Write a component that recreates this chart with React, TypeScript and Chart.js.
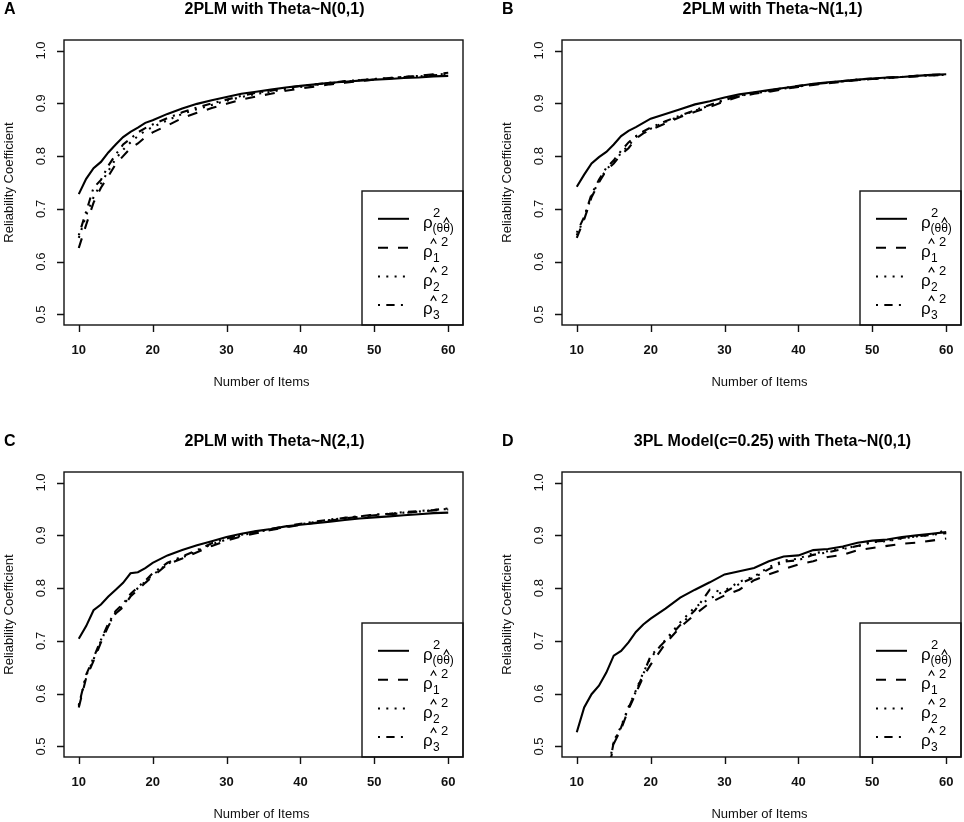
import { useEffect, useRef } from "react"
import { Chart, registerables } from "chart.js"
import type { Plugin } from "chart.js"

Chart.register(...registerables)

const FONT = "'Liberation Sans', Arial, Helvetica, sans-serif"

// x positions (number of items) where the curves were read
const items = [10, 11, 12, 13, 14, 15, 16, 17, 18, 19, 20, 22, 24, 26, 28, 30, 32, 34, 36, 38, 40, 42, 44, 46, 48, 50, 52, 54, 56, 58, 60]

const xTicks = [10, 20, 30, 40, 50, 60]
const yTicks = [0.5, 0.6, 0.7, 0.8, 0.9, 1.0]
const yTickLabels = ["0.5", "0.6", "0.7", "0.8", "0.9", "1.0"]

const panelLetters = ["A", "B", "C", "D"]
const panelTitles = [
  "2PLM with Theta~N(0,1)",
  "2PLM with Theta~N(1,1)",
  "2PLM with Theta~N(2,1)",
  "3PL Model(c=0.25) with Theta~N(0,1)",
]
const legendSubscripts = ["1", "2", "3"]

// A: 2PLM, theta ~ N(0,1)
const aTrue = [0.728, 0.757, 0.777, 0.789, 0.807, 0.822, 0.836, 0.846, 0.854, 0.863, 0.868, 0.880, 0.890, 0.899, 0.906, 0.912, 0.918, 0.922, 0.926, 0.930, 0.933, 0.936, 0.939, 0.941, 0.943, 0.945, 0.946, 0.948, 0.949, 0.951, 0.952]
const aRho1 = [0.626, 0.670, 0.712, 0.740, 0.762, 0.785, 0.800, 0.815, 0.824, 0.836, 0.845, 0.858, 0.872, 0.882, 0.891, 0.899, 0.907, 0.913, 0.918, 0.924, 0.928, 0.932, 0.936, 0.939, 0.942, 0.945, 0.947, 0.950, 0.952, 0.955, 0.958]
const aRho2 = [0.645, 0.688, 0.722, 0.748, 0.772, 0.795, 0.812, 0.826, 0.838, 0.848, 0.855, 0.868, 0.880, 0.889, 0.897, 0.905, 0.912, 0.918, 0.922, 0.927, 0.931, 0.935, 0.938, 0.941, 0.944, 0.946, 0.948, 0.950, 0.952, 0.954, 0.956]
const aRho3 = [0.650, 0.695, 0.740, 0.755, 0.782, 0.803, 0.822, 0.833, 0.845, 0.853, 0.860, 0.872, 0.883, 0.892, 0.900, 0.907, 0.914, 0.920, 0.924, 0.929, 0.933, 0.936, 0.939, 0.942, 0.944, 0.946, 0.948, 0.950, 0.951, 0.953, 0.955]

// B: 2PLM, theta ~ N(1,1)
const bTrue = [0.742, 0.765, 0.786, 0.798, 0.808, 0.822, 0.838, 0.848, 0.855, 0.863, 0.871, 0.880, 0.889, 0.898, 0.904, 0.911, 0.917, 0.921, 0.925, 0.929, 0.933, 0.937, 0.940, 0.942, 0.945, 0.947, 0.949, 0.950, 0.952, 0.954, 0.955]
const bRho1 = [0.645, 0.680, 0.722, 0.750, 0.773, 0.786, 0.803, 0.815, 0.833, 0.843, 0.850, 0.862, 0.874, 0.884, 0.893, 0.904, 0.913, 0.918, 0.922, 0.927, 0.931, 0.935, 0.938, 0.941, 0.944, 0.946, 0.948, 0.950, 0.951, 0.953, 0.954]
const bRho2 = [0.650, 0.682, 0.725, 0.752, 0.775, 0.788, 0.806, 0.820, 0.836, 0.846, 0.852, 0.865, 0.876, 0.886, 0.896, 0.906, 0.914, 0.919, 0.923, 0.928, 0.932, 0.936, 0.939, 0.942, 0.944, 0.946, 0.948, 0.950, 0.952, 0.953, 0.954]
const bRho3 = [0.655, 0.685, 0.728, 0.755, 0.778, 0.792, 0.810, 0.826, 0.838, 0.847, 0.854, 0.866, 0.877, 0.887, 0.897, 0.907, 0.915, 0.920, 0.924, 0.929, 0.933, 0.936, 0.939, 0.942, 0.945, 0.947, 0.949, 0.950, 0.952, 0.954, 0.955]

// C: 2PLM, theta ~ N(2,1)
const cTrue = [0.704, 0.728, 0.758, 0.769, 0.784, 0.797, 0.810, 0.828, 0.830, 0.838, 0.848, 0.862, 0.872, 0.881, 0.889, 0.897, 0.903, 0.908, 0.912, 0.917, 0.920, 0.923, 0.926, 0.929, 0.932, 0.934, 0.936, 0.938, 0.940, 0.942, 0.943]
const cRho1 = [0.574, 0.630, 0.662, 0.697, 0.728, 0.752, 0.764, 0.784, 0.797, 0.810, 0.822, 0.845, 0.856, 0.868, 0.880, 0.890, 0.898, 0.904, 0.910, 0.915, 0.920, 0.924, 0.928, 0.932, 0.935, 0.938, 0.940, 0.942, 0.945, 0.947, 0.949]
const cRho2 = [0.576, 0.634, 0.665, 0.700, 0.730, 0.755, 0.767, 0.787, 0.800, 0.812, 0.825, 0.846, 0.858, 0.870, 0.883, 0.892, 0.900, 0.906, 0.911, 0.916, 0.921, 0.925, 0.929, 0.933, 0.936, 0.939, 0.941, 0.943, 0.945, 0.948, 0.950]
const cRho3 = [0.578, 0.636, 0.668, 0.702, 0.733, 0.757, 0.770, 0.789, 0.802, 0.814, 0.828, 0.848, 0.860, 0.872, 0.885, 0.894, 0.901, 0.907, 0.912, 0.917, 0.922, 0.926, 0.930, 0.933, 0.936, 0.939, 0.941, 0.944, 0.946, 0.948, 0.951]

// D: 3PL (c=0.25), theta ~ N(0,1); estimates below 0.48 fall outside the plot
const dTrue = [0.527, 0.574, 0.599, 0.615, 0.640, 0.672, 0.681, 0.697, 0.717, 0.731, 0.742, 0.761, 0.782, 0.797, 0.811, 0.826, 0.832, 0.838, 0.851, 0.860, 0.862, 0.872, 0.874, 0.879, 0.886, 0.890, 0.892, 0.897, 0.900, 0.903, 0.906]
const dRho1 = [null, null, null, null, 0.430, 0.505, 0.533, 0.570, 0.601, 0.632, 0.655, 0.695, 0.726, 0.750, 0.772, 0.786, 0.797, 0.815, 0.826, 0.836, 0.845, 0.851, 0.859, 0.863, 0.872, 0.876, 0.880, 0.884, 0.886, 0.890, 0.894]
const dRho2 = [null, null, null, null, 0.440, 0.510, 0.538, 0.575, 0.606, 0.640, 0.668, 0.702, 0.735, 0.764, 0.780, 0.795, 0.812, 0.822, 0.840, 0.852, 0.856, 0.866, 0.870, 0.876, 0.879, 0.887, 0.889, 0.894, 0.898, 0.901, 0.910]
const dRho3 = [null, null, null, null, 0.435, 0.508, 0.536, 0.573, 0.604, 0.637, 0.672, 0.700, 0.730, 0.758, 0.797, 0.792, 0.808, 0.820, 0.836, 0.850, 0.853, 0.863, 0.868, 0.874, 0.880, 0.888, 0.890, 0.895, 0.898, 0.901, 0.904]

// R line types (solid, dashed, dotted, dot-dash) at lwd = 2
const lineDashes = [[], [10, 10], [2, 6.3], [2, 6.3, 8.3, 6.3]]

const PANEL_W = 466
const PANEL_H = 390
const panelOffsets = [[0, 0], [498, 0], [0, 432], [498, 432]]

interface FrameOptions {
  letter: string
  title: string
}

function drawHat(ctx: CanvasRenderingContext2D, cx: number, cy: number) {
  ctx.beginPath()
  ctx.moveTo(cx - 2.8, cy + 2.4)
  ctx.lineTo(cx, cy - 2.4)
  ctx.lineTo(cx + 2.8, cy + 2.4)
  ctx.stroke()
}

const rFrame: Plugin<"line"> = {
  id: "rFrame",
  afterDraw(chart, _args, options) {
    const opts = options as unknown as FrameOptions
    const { ctx, chartArea: a } = chart
    const xs = chart.scales.x
    const ys = chart.scales.y
    ctx.save()
    ctx.strokeStyle = "#111"
    ctx.fillStyle = "#111"
    ctx.setLineDash([])

    // plot box
    ctx.lineWidth = 1.4
    ctx.strokeRect(a.left, a.top, a.right - a.left, a.bottom - a.top)

    // tick marks
    ctx.beginPath()
    xTicks.forEach((v) => {
      const px = Math.round(xs.getPixelForValue(v)) + 0.5
      ctx.moveTo(px, a.bottom)
      ctx.lineTo(px, a.bottom + 7)
    })
    yTicks.forEach((v) => {
      const py = Math.round(ys.getPixelForValue(v)) + 0.5
      ctx.moveTo(a.left, py)
      ctx.lineTo(a.left - 7, py)
    })
    ctx.stroke()

    ctx.textAlign = "center"
    ctx.textBaseline = "middle"
    ctx.font = `bold 13px ${FONT}`
    xTicks.forEach((v) => ctx.fillText(String(v), xs.getPixelForValue(v), a.bottom + 25.5))

    ctx.font = `13px ${FONT}`
    yTicks.forEach((v, i) => {
      ctx.save()
      ctx.translate(a.left - 23, ys.getPixelForValue(v))
      ctx.rotate(-Math.PI / 2)
      ctx.fillText(yTickLabels[i], 0, 0)
      ctx.restore()
    })

    // axis titles
    ctx.fillText("Number of Items", (a.left + a.right) / 2 - 2, a.bottom + 57.7)
    ctx.save()
    ctx.translate(9.5, (a.top + a.bottom) / 2)
    ctx.rotate(-Math.PI / 2)
    ctx.fillText("Reliability Coefficient", 0, 0)
    ctx.restore()

    // main title and panel letter
    ctx.fillStyle = "#000"
    ctx.font = `bold 16px ${FONT}`
    ctx.fillText(opts.title, 274.5, 10)
    ctx.fillText(opts.letter, 9.8, 10)

    // legend
    const L = a.right - 101
    const T = a.top + 151
    ctx.strokeStyle = "#111"
    ctx.lineWidth = 1.4
    ctx.strokeRect(L, T, a.right - L, a.bottom - T)
    const rows = [27.8, 56.8, 85.5, 114]
    rows.forEach((dy, i) => {
      const yl = T + dy
      ctx.strokeStyle = "#000"
      ctx.lineWidth = 2
      ctx.setLineDash(lineDashes[i])
      ctx.beginPath()
      ctx.moveTo(L + 16, yl)
      ctx.lineTo(L + 47, yl)
      ctx.stroke()
      ctx.setLineDash([])

      ctx.textAlign = "left"
      ctx.textBaseline = "alphabetic"
      ctx.font = `17px ${FONT}`
      ctx.fillText("ρ", L + 61, yl + 9)
      ctx.lineWidth = 1.1
      if (i === 0) {
        ctx.font = `13px ${FONT}`
        ctx.fillText("2", L + 71, yl - 2)
        ctx.font = `12px ${FONT}`
        ctx.fillText("(θθ)", L + 70.5, yl + 13)
        const hx = L + 70.5 + ctx.measureText("(θ").width + ctx.measureText("θ").width / 2
        drawHat(ctx, hx, yl + 1.5)
      } else {
        ctx.font = `13px ${FONT}`
        ctx.fillText("2", L + 79, yl - 2)
        ctx.font = `12px ${FONT}`
        ctx.fillText(legendSubscripts[i - 1], L + 71, yl + 14)
        drawHat(ctx, L + 71.5, yl - 6.5)
      }
    })
    ctx.restore()
  },
}

interface PanelProps {
  index: number
  series: (number | null)[][]
}

function Panel({ index, series }: PanelProps) {
  const canvasRef = useRef<HTMLCanvasElement>(null)
  const chartRef = useRef<Chart<"line"> | null>(null)

  useEffect(() => {
    if (!canvasRef.current) return
    if (chartRef.current) chartRef.current.destroy()

    chartRef.current = new Chart(canvasRef.current, {
      type: "line",
      data: {
        datasets: series.map((vals, s) => ({
          label: s === 0 ? "true" : `rho${s}`,
          data: items.map((x, i) => ({ x, y: vals[i] as number })),
          borderColor: "#000",
          borderWidth: 2.1,
          borderDash: lineDashes[s],
          borderCapStyle: "butt" as const,
          pointRadius: 0,
          tension: 0,
          fill: false,
          clip: 0,
        })),
      },
      options: {
        responsive: false,
        animation: false,
        events: [],
        layout: { padding: { left: 64, top: 40, right: PANEL_W - 463, bottom: PANEL_H - 325 } },
        scales: {
          x: { type: "linear", min: 8, max: 62, display: false },
          y: { type: "linear", min: 0.48, max: 1.02, display: false },
        },
        plugins: {
          legend: { display: false },
          tooltip: { enabled: false },
          title: { display: false },
          // @ts-expect-error custom plugin options
          rFrame: { letter: panelLetters[index], title: panelTitles[index] },
        },
      },
      plugins: [rFrame],
    })

    return () => {
      if (chartRef.current) {
        chartRef.current.destroy()
        chartRef.current = null
      }
    }
  }, [index, series])

  const [left, top] = panelOffsets[index]
  return (
    <div style={{ position: "absolute", left, top, width: PANEL_W, height: PANEL_H }}>
      <canvas ref={canvasRef} width={PANEL_W} height={PANEL_H} />
    </div>
  )
}

const panelSeries = [
  [aTrue, aRho1, aRho2, aRho3],
  [bTrue, bRho1, bRho2, bRho3],
  [cTrue, cRho1, cRho2, cRho3],
  [dTrue, dRho1, dRho2, dRho3],
]

export default function App() {
  useEffect(() => {
    document.body.style.margin = "0"
  }, [])

  return (
    <div style={{ position: "absolute", left: 0, top: 0, width: 964, height: 822, background: "#fff" }}>
      {panelSeries.map((series, i) => (
        <Panel key={panelLetters[i]} index={i} series={series} />
      ))}
    </div>
  )
}
